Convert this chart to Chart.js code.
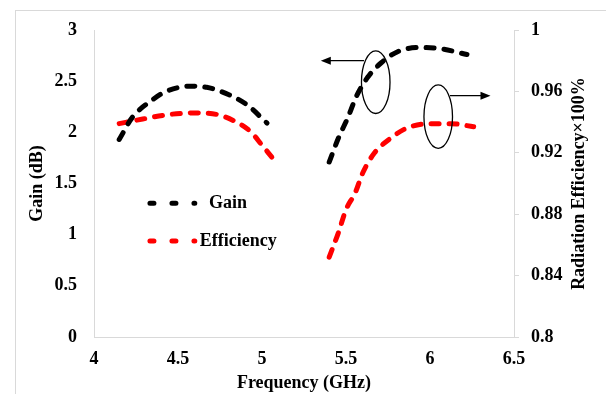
<!DOCTYPE html>
<html>
<head>
<meta charset="utf-8">
<script src="https://cdn.jsdelivr.net/npm/chart.js@4/dist/chart.umd.min.js"></script>
<style>
  html, body { margin: 0; padding: 0; background: #fff; }
  #wrap { width: 606px; height: 394px; position: relative; }
</style>
</head>
<body>
<div id="wrap"><canvas id="c" width="606" height="394"></canvas></div>
<script>
// ---- Data ----
const freqTicks = [4, 4.5, 5, 5.5, 6, 6.5];
const gainTicks = [0, 0.5, 1, 1.5, 2, 2.5, 3];
const effTicks = [0.8, 0.84, 0.88, 0.92, 0.96, 1];

// Lower band (4.15 - 5.06 GHz)
const gainFreqA = [4.15, 4.23, 4.35, 4.43, 4.57, 4.67, 4.80, 4.91, 5.03];
const gainA     = [1.93, 2.15, 2.32, 2.40, 2.45, 2.44, 2.37, 2.27, 2.09];
const effFreqA  = [4.15, 4.29, 4.45, 4.61, 4.73, 4.83, 4.93, 5.00, 5.06];
const effA      = [0.939, 0.942, 0.945, 0.946, 0.945, 0.941, 0.934, 0.925, 0.917];

// Upper band (5.40 - 6.26 GHz)
const gainFreqB = [5.40, 5.455, 5.51, 5.56, 5.63, 5.71, 5.81, 5.94, 6.07, 6.22];
const gainB     = [1.71, 1.945, 2.14, 2.345, 2.54, 2.68, 2.79, 2.83, 2.815, 2.76];
const effFreqB  = [5.40, 5.455, 5.50, 5.555, 5.60, 5.67, 5.76, 5.86, 6.00, 6.12, 6.26];
const effB      = [0.852, 0.868, 0.883, 0.894, 0.907, 0.920, 0.929, 0.936, 0.939, 0.939, 0.937];

const seriesNames = ['Gain', 'Efficiency'];
const xTitle = 'Frequency (GHz)';
const yTitle = 'Gain (dB)';
const y2Title = 'Radiation Efficiency×100%';

const FONT = "'Liberation Serif', 'Times New Roman', serif";
const toXY = (xs, ys) => xs.map((x, i) => ({x: x, y: ys[i]}));

const lineStyle = (color) => ({
  borderColor: color, backgroundColor: color, borderWidth: 5,
  borderDash: [8, 10], borderCapStyle: 'round', pointRadius: 0,
  cubicInterpolationMode: 'monotone', fill: false
});

const fmt = (v) => String(Math.round(v * 100) / 100);

const decorPlugin = {
  id: 'decor',
  beforeDraw(chart) {
    const ctx = chart.ctx;
    ctx.save();
    ctx.strokeStyle = '#d9d9d9';
    ctx.lineWidth = 1;
    ctx.strokeRect(15.5, 10.5, 800, 600);
    ctx.restore();
  },
  afterDatasetsDraw(chart) {
    const ctx = chart.ctx;
    const xs = chart.scales.x, ys = chart.scales.y;
    const px = v => xs.getPixelForValue(v), py = v => ys.getPixelForValue(v);
    ctx.save();
    // ellipses
    ctx.strokeStyle = '#000';
    ctx.lineWidth = 1.3;
    const ell = (f, g, rf, rg) => {
      const cx = px(f), cy = py(g);
      const rx = Math.abs(px(f + rf) - cx), ry = Math.abs(py(g + rg) - cy);
      ctx.beginPath();
      ctx.ellipse(cx, cy, rx, ry, 0, 0, Math.PI * 2);
      ctx.stroke();
    };
    ell(5.677, 2.49, 0.085, 0.306);
    ell(6.049, 2.153, 0.085, 0.31);
    // arrows
    const arrow = (f0, f1, g) => {
      const x0 = px(f0), x1 = px(f1), y = py(g);
      const dir = Math.sign(x1 - x0);
      ctx.beginPath();
      ctx.moveTo(x0, y); ctx.lineTo(x1 - dir * 6, y);
      ctx.stroke();
      ctx.beginPath();
      ctx.moveTo(x1, y);
      ctx.lineTo(x1 - dir * 10, y - 4);
      ctx.lineTo(x1 - dir * 10, y + 4);
      ctx.closePath();
      ctx.fillStyle = '#000';
      ctx.fill();
    };
    arrow(5.607, 5.35, 2.70);
    arrow(6.119, 6.36, 2.358);

    // legend
    const legend = [
      {name: seriesNames[0], color: '#000', g: 1.307, tx: 4.685},
      {name: seriesNames[1], color: '#ff0000', g: 0.938, tx: 4.63}
    ];
    legend.forEach(it => {
      const y = py(it.g);
      ctx.strokeStyle = it.color;
      ctx.lineWidth = 5;
      ctx.lineCap = 'round';
      ctx.setLineDash([4, 18]);
      ctx.beginPath();
      ctx.moveTo(px(4.333), y);
      ctx.lineTo(px(4.6), y);
      ctx.stroke();
      ctx.setLineDash([]);
      ctx.fillStyle = '#000';
      ctx.font = "bold 18px " + FONT;
      ctx.textAlign = 'left';
      ctx.textBaseline = 'middle';
      ctx.fillText(it.name, px(it.tx), y);
    });
    ctx.restore();
  },
  afterDraw(chart) {
    const ctx = chart.ctx;
    const a = chart.chartArea;
    ctx.save();
    ctx.translate(579, (a.top + a.bottom) / 2);
    ctx.rotate(-Math.PI / 2);
    ctx.font = "bold 18px " + FONT;
    ctx.fillStyle = '#000';
    ctx.textAlign = 'center';
    ctx.textBaseline = 'middle';
    ctx.fillText(y2Title, 0, 0);
    ctx.restore();
  }
};

new Chart(document.getElementById('c'), {
  type: 'line',
  data: {
    datasets: [
      Object.assign({label: seriesNames[0], data: toXY(gainFreqA, gainA), yAxisID: 'y'}, lineStyle('#000')),
      Object.assign({label: seriesNames[0], data: toXY(gainFreqB, gainB), yAxisID: 'y'}, lineStyle('#000')),
      Object.assign({label: seriesNames[1], data: toXY(effFreqA, effA), yAxisID: 'y2'}, lineStyle('#ff0000')),
      Object.assign({label: seriesNames[1], data: toXY(effFreqB, effB), yAxisID: 'y2'}, lineStyle('#ff0000'))
    ]
  },
  options: {
    responsive: false,
    animation: false,
    events: [],
    layout: { padding: { top: 30, left: 0, right: 0, bottom: 0 } },
    plugins: { legend: { display: false }, tooltip: { enabled: false } },
    scales: {
      x: {
        type: 'linear', position: 'bottom',
        min: freqTicks[0], max: freqTicks[freqTicks.length - 1],
        afterBuildTicks: s => { s.ticks = freqTicks.map(v => ({value: v})); },
        afterFit: s => { s.height = 57; },
        grid: { display: true, drawOnChartArea: false, drawTicks: false },
        border: { display: true, color: '#d9d9d9', width: 1 },
        ticks: { color: '#000', padding: 12, maxRotation: 0, autoSkip: false,
                 font: { family: FONT, size: 18, weight: 'bold' }, callback: v => fmt(v) },
        title: { display: true, text: xTitle, color: '#000', padding: { top: 0, bottom: 0 },
                 font: { family: FONT, size: 18, weight: 'bold' } }
      },
      y: {
        type: 'linear', position: 'left',
        min: gainTicks[0], max: gainTicks[gainTicks.length - 1],
        afterBuildTicks: s => { s.ticks = gainTicks.map(v => ({value: v})); },
        afterFit: s => { s.width = 94; },
        grid: { display: true, drawOnChartArea: false, drawTicks: false },
        border: { display: true, color: '#d9d9d9', width: 1 },
        ticks: { color: '#000', padding: 17, autoSkip: false,
                 font: { family: FONT, size: 18, weight: 'bold' }, callback: v => fmt(v) },
        title: { display: true, text: yTitle, color: '#000', padding: { top: 27, bottom: 0 },
                 font: { family: FONT, size: 18, weight: 'bold' } }
      },
      y2: {
        type: 'linear', position: 'right',
        min: effTicks[0], max: effTicks[effTicks.length - 1],
        afterBuildTicks: s => { s.ticks = effTicks.map(v => ({value: v})); },
        afterFit: s => { s.width = 92; },
        grid: { display: true, drawOnChartArea: false, drawTicks: true, tickLength: 5, color: '#d9d9d9' },
        border: { display: true, color: '#d9d9d9', width: 1 },
        ticks: { color: '#000', padding: 12, autoSkip: false,
                 font: { family: FONT, size: 18, weight: 'bold' }, callback: v => fmt(v) }
      }
    }
  },
  plugins: [decorPlugin]
});
</script>
</body>
</html>
